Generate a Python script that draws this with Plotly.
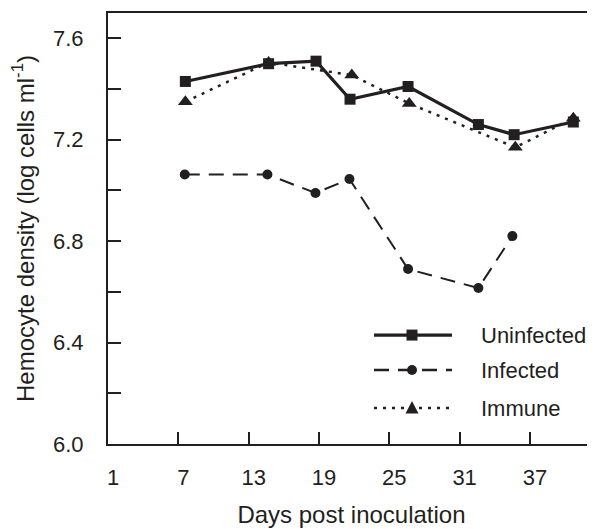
import plotly.graph_objects as go

# ---- data ----
days_uninfected = [7.6, 14.7, 18.75, 21.65, 26.6, 32.6, 35.65, 40.7]
uninfected = [7.43, 7.50, 7.51, 7.36, 7.41, 7.26, 7.22, 7.27]

days_infected = [7.55, 14.6, 18.7, 21.6, 26.6, 32.6, 35.5]
infected = [7.063, 7.063, 6.99, 7.045, 6.69, 6.615, 6.82]

days_immune = [7.6, 14.7, 21.8, 26.7, 35.75, 40.7]
immune = [7.35, 7.505, 7.455, 7.343, 7.17, 7.285]

x_ticks = [1, 7, 13, 19, 25, 31, 37]
y_ticks = [6.0, 6.2, 6.4, 6.6, 6.8, 7.0, 7.2, 7.4, 7.6]
y_ticktext = ["6.0", "", "6.4", "", "6.8", "", "7.2", "", "7.6"]

INK = "#231f20"
FONT = "Liberation Sans, Arial, Helvetica, sans-serif"

# page has an 8px body margin; figure is sized so that it fills the window
OFF = 8
W, H = 595 - OFF, 529 - OFF

fig = go.Figure()

fig.add_trace(go.Scatter(
    x=days_infected, y=infected, mode="lines+markers", name="Infected",
    line=dict(color=INK, width=2, dash="15px,9px"),
    marker=dict(symbol="circle", size=10, color=INK)))
fig.add_trace(go.Scatter(
    x=days_immune, y=immune, mode="lines+markers", name="Immune",
    line=dict(color=INK, width=2.5, dash="3px,6px"),
    marker=dict(symbol="triangle-up", size=13, color=INK)))
fig.add_trace(go.Scatter(
    x=days_uninfected, y=uninfected, mode="lines+markers", name="Uninfected",
    line=dict(color=INK, width=3.2),
    marker=dict(symbol="square", size=11, color=INK)))

# ---- manual legend (paper coordinates, page pixel positions) ----
L, R, T, B = 108, 595, 12.7, 444
def px(x):
    return (x - L) / (R - L)
def py(y):
    return (B - y) / (B - T)

legend_items = [
    ("Uninfected", 335, "solid", 3.2, "square"),
    ("Infected", 370, "15px,9px", 2.5, "circle"),
    ("Immune", 408, "3px,6px", 2.5, "triangle"),
]
shapes = []
annotations = []
x0l, x1l, xm = 374, 452, 412
for label, yy, dash, w, sym in legend_items:
    shapes.append(dict(type="line", xref="paper", yref="paper",
                       x0=px(x0l), x1=px(x1l), y0=py(yy), y1=py(yy),
                       line=dict(color=INK, width=w, dash=dash)))
    if sym == "square":
        s = 5.5
        shapes.append(dict(type="rect", xref="paper", yref="paper",
                           x0=px(xm - s), x1=px(xm + s), y0=py(yy + s), y1=py(yy - s),
                           fillcolor=INK, line=dict(width=0)))
    elif sym == "circle":
        s = 5
        shapes.append(dict(type="circle", xref="paper", yref="paper",
                           x0=px(xm - s), x1=px(xm + s), y0=py(yy + s), y1=py(yy - s),
                           fillcolor=INK, line=dict(width=0)))
    else:
        s = 6.5
        shapes.append(dict(type="path", xref="paper", yref="paper",
                           path="M {} {} L {} {} L {} {} Z".format(
                               px(xm - s), py(yy + 5.5), px(xm + s), py(yy + 5.5),
                               px(xm), py(yy - 7)),
                           fillcolor=INK, line=dict(width=0)))
    annotations.append(dict(xref="paper", yref="paper", x=px(479), y=py(yy),
                            text=label, showarrow=False, xanchor="left", yanchor="middle",
                            font=dict(size=22, color=INK, family=FONT)))

fig.update_layout(
    width=W, height=H,
    margin=dict(l=L - OFF, r=0, t=T - OFF, b=529 - B, autoexpand=False),
    paper_bgcolor="white", plot_bgcolor="white",
    showlegend=False,
    font=dict(family=FONT, color=INK, size=22),
    shapes=shapes, annotations=annotations,
    xaxis=dict(
        range=[1, 42.55], tickvals=x_ticks, ticktext=[str(v) for v in x_ticks],
        ticks="inside", ticklen=12, tickwidth=2, tickcolor=INK,
        showline=True, linewidth=2.2, linecolor=INK, mirror=True,
        showgrid=False, zeroline=False, automargin=False,
        ticklabelstandoff=12, ticklabelshift=5, tickfont=dict(size=22, color=INK),
        title=dict(text="Days post inoculation", font=dict(size=24, color=INK), standoff=18),
    ),
    yaxis=dict(
        range=[6.0, 7.70], tickvals=y_ticks, ticktext=y_ticktext,
        ticks="inside", ticklen=13, tickwidth=2, tickcolor=INK,
        showline=True, linewidth=2.2, linecolor=INK, mirror=False,
        showgrid=False, zeroline=False, automargin=False,
        ticklabelstandoff=18, tickfont=dict(size=22, color=INK),
        title=dict(text="Hemocyte density (log cells ml<sup>-1</sup>)",
                   font=dict(size=24, color=INK), standoff=12),
    ),
)

fig.write_html("out.html")
